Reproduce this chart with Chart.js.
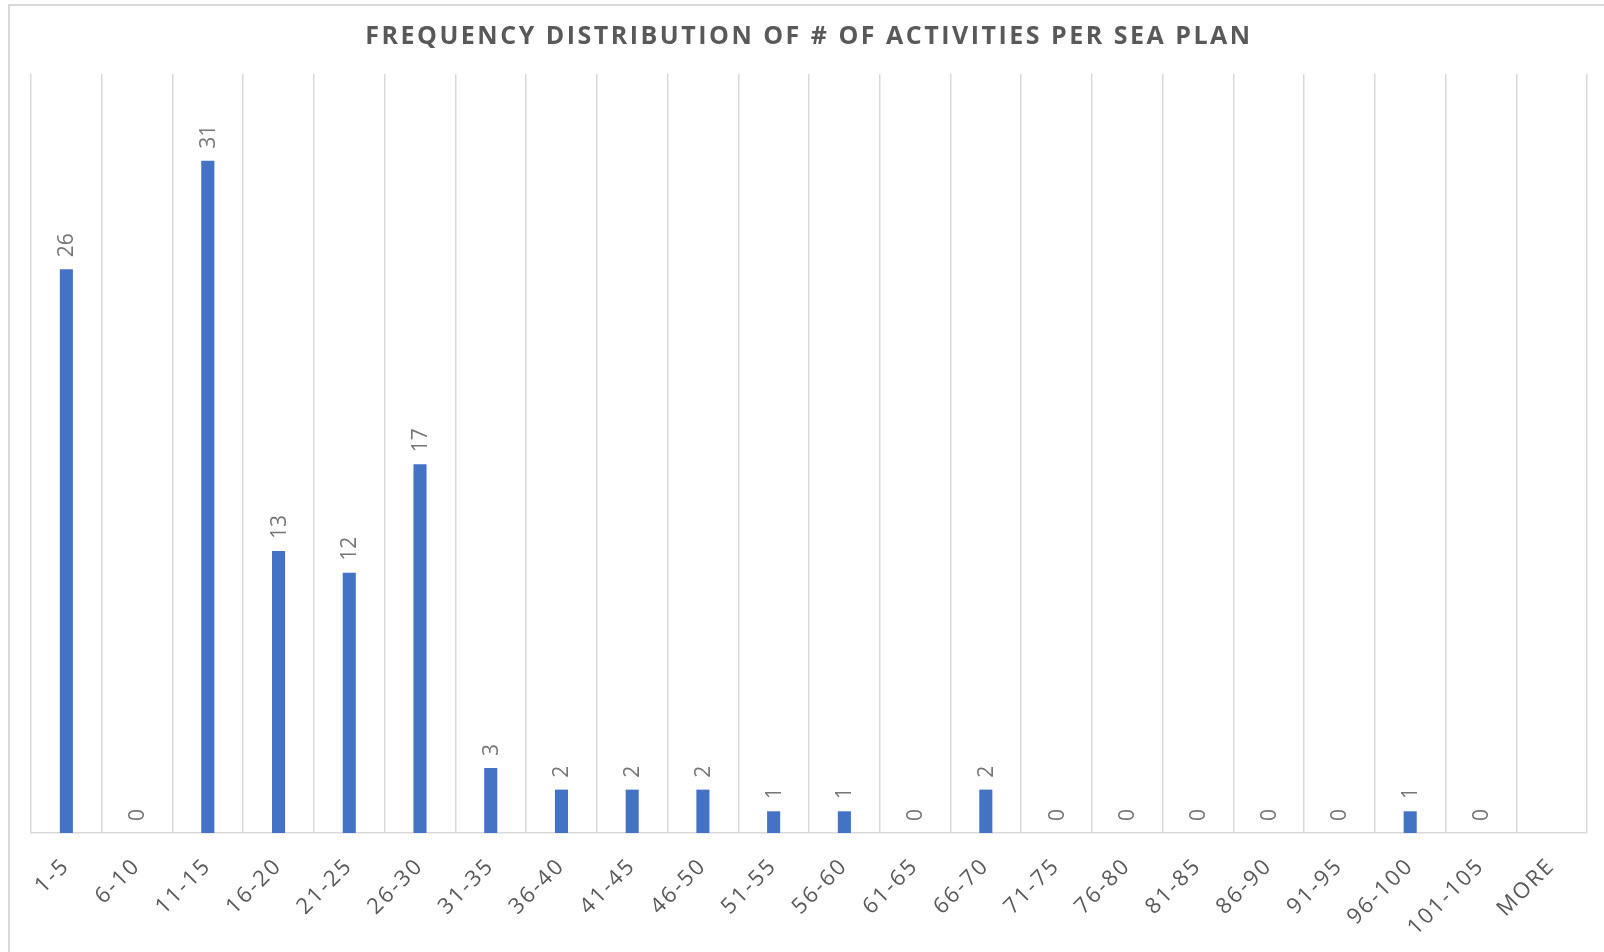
<!DOCTYPE html>
<html lang="en">
<head>
    <meta charset="UTF-8">
    <title>Frequency distribution of # of activities per SEA plan</title>
    <script src="https://cdn.jsdelivr.net/npm/chart.js"></script>
    <style>
        html, body { margin: 0; padding: 0; background: #fff; }
        .chart-box { position: relative; width: 1604px; height: 952px; }
    </style>
</head>
<body>
    <div class="chart-box">
        <canvas id="histChart"></canvas>
    </div>

    <script>
        // Données
        const titleText = "FREQUENCY DISTRIBUTION OF # OF ACTIVITIES PER SEA PLAN";
        const bins = ["1-5", "6-10", "11-15", "16-20", "21-25", "26-30", "31-35", "36-40",
                      "41-45", "46-50", "51-55", "56-60", "61-65", "66-70", "71-75", "76-80",
                      "81-85", "86-90", "91-95", "96-100", "101-105", "MORE"];
        const counts = [26, 0, 31, 13, 12, 17, 3, 2, 2, 2, 1, 1, 0, 2, 0, 0, 0, 0, 0, 1, 0, null];
        const yMax = 35;

        const textGrey = '#595959';
        const lineGrey = '#d9d9d9';

        // cadre gris (haut + gauche) autour du graphique
        const framePlugin = {
            id: 'frame',
            beforeDraw(chart) {
                const ctx = chart.ctx;
                ctx.save();
                ctx.strokeStyle = lineGrey;
                ctx.lineWidth = 2;
                ctx.beginPath();
                ctx.moveTo(9, chart.height);
                ctx.lineTo(9, 5);
                ctx.lineTo(chart.width, 5);
                ctx.stroke();
                ctx.restore();
                // espacement des lettres pour les étiquettes d'axe
                ctx.letterSpacing = '2.2px';
            }
        };

        // titre avec espacement des lettres
        const titlePlugin = {
            id: 'spacedTitle',
            afterDraw(chart) {
                const ctx = chart.ctx;
                const area = chart.chartArea;
                ctx.save();
                ctx.letterSpacing = '2.5px';
                ctx.font = 'bold 25px "Open Sans"';
                ctx.fillStyle = textGrey;
                ctx.textAlign = 'center';
                ctx.textBaseline = 'middle';
                ctx.fillText(titleText, (area.left + area.right) / 2, 37);
                ctx.restore();
            }
        };

        // étiquettes de valeurs verticales au-dessus des barres
        const valueLabels = {
            id: 'valueLabels',
            afterDatasetsDraw(chart) {
                const ctx = chart.ctx;
                const meta = chart.getDatasetMeta(0);
                ctx.save();
                ctx.letterSpacing = '0px';
                ctx.font = '21px "Open Sans"';
                ctx.fillStyle = '#767676';
                ctx.textAlign = 'left';
                ctx.textBaseline = 'middle';
                meta.data.forEach((bar, i) => {
                    const v = counts[i];
                    if (v === null || v === undefined) return;
                    ctx.save();
                    ctx.translate(bar.x, bar.y - 12);
                    ctx.rotate(-Math.PI / 2);
                    ctx.fillText(String(v), 0, 1);
                    ctx.restore();
                });
                ctx.restore();
            }
        };

        const ctx = document.getElementById('histChart').getContext('2d');
        const histChart = new Chart(ctx, {
            type: 'bar',
            data: {
                labels: bins,
                datasets: [{
                    label: 'Frequency',
                    data: counts,
                    backgroundColor: '#4472c4',
                    borderWidth: 0,
                    categoryPercentage: 1,
                    barPercentage: 0.185
                }]
            },
            options: {
                responsive: true,
                maintainAspectRatio: false,
                animation: false,
                layout: { padding: { top: 74, left: 31, right: 17, bottom: 0 } },
                plugins: {
                    legend: { display: false },
                    title: { display: false },
                    tooltip: { enabled: false }
                },
                scales: {
                    x: {
                        offset: true,
                        grid: { offset: true, color: lineGrey, lineWidth: 1.5, drawTicks: false },
                        border: { display: true, color: lineGrey, width: 1.5 },
                        ticks: {
                            color: textGrey,
                            font: { family: '"Open Sans"', size: 22 },
                            minRotation: 45,
                            maxRotation: 45,
                            autoSkip: false,
                            padding: 20
                        },
                        afterFit(scale) { scale.height = 119; }
                    },
                    y: {
                        display: false,
                        min: 0,
                        max: yMax
                    }
                }
            },
            plugins: [framePlugin, valueLabels, titlePlugin]
        });
    </script>
</body>
</html>
